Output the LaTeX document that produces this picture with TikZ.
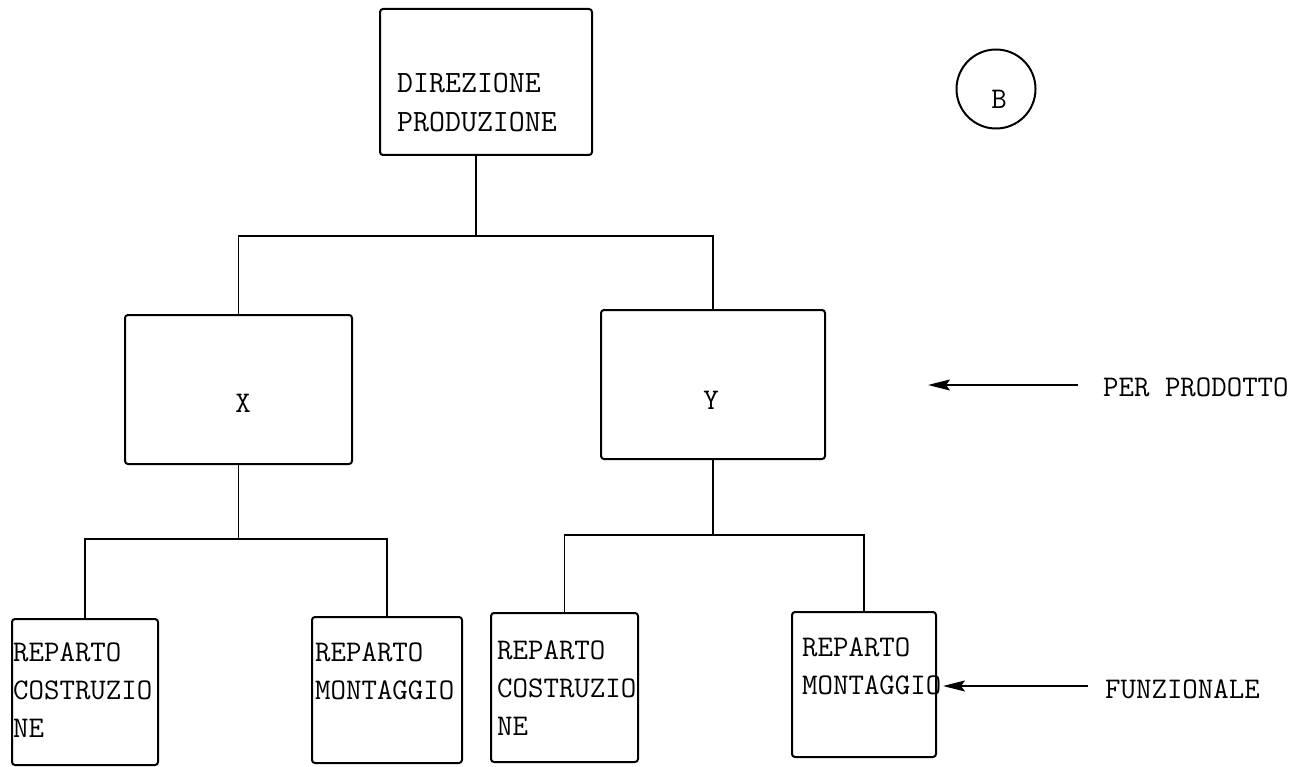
\documentclass[tikz,border=0pt]{standalone}
\usepackage{fontspec}
\usetikzlibrary{arrows.meta}
\begin{document}
\begin{tikzpicture}[x=1pt,y=-1pt,
  box/.style={draw, line width=2pt, rounded corners=3pt, inner sep=0pt},
  link/.style={line width=1.6pt},
  txt/.style={font=\fontsize{30}{38}\selectfont\ttfamily, inner sep=0pt},
  multi/.style={txt, text width=#1, align=left, anchor=base west},
  pointer/.style={line width=1.8pt, -{Stealth[length=22pt,width=11pt,inset=4pt]}},
]
\fill[white] (0,0) rectangle (1308,767);
\useasboundingbox (0,0) rectangle (1308,767);

% boxes
\node[box, minimum width=212pt, minimum height=146pt] (top) at (486,82) {};
\node[box, minimum width=227pt, minimum height=149pt] (X) at (238.5,389.5) {};
\node[box, minimum width=224pt, minimum height=149pt] (Y) at (713,384.5) {};
\node[box, minimum width=146pt, minimum height=146pt] (B1) at (85,692) {};
\node[box, minimum width=150pt, minimum height=146pt] (B2) at (387,690) {};
\node[box, minimum width=147pt, minimum height=149pt] (B3) at (564.5,687.5) {};
\node[box, minimum width=144pt, minimum height=145pt] (B4) at (864,684.5) {};
\node[draw, circle, line width=2pt, minimum size=79pt, inner sep=0pt] (mark) at (996,89) {};

% labels
\node[multi=200pt, font=\fontsize{31}{39}\selectfont\ttfamily] (topt) at (397,93) {DIREZIONE\\PRODUZIONE};
\node[txt, anchor=base] (Xt) at (243,412) {X};
\node[txt, anchor=base] (Yt) at (711,409) {Y};
\node[txt, anchor=base] (markt) at (999,109) {B};
\node[multi=160pt] (B1t) at (13,661) {REPARTO\\COSTRUZIO\\NE};
\node[multi=160pt] (B2t) at (315,661) {REPARTO\\MONTAGGIO};
\node[multi=160pt] (B3t) at (497,659) {REPARTO\\COSTRUZIO\\NE};
\node[multi=160pt] (B4t) at (802,656) {REPARTO\\MONTAGGIO};
\node[txt, anchor=base west] (pp) at (1103,396) {PER PRODOTTO};
\node[txt, anchor=base west] (fz) at (1105,698) {FUNZIONALE};

% tree connectors
\coordinate (j0) at (476,236);
\draw[link] (top.south -| j0) -- (j0);
\draw[link] (X.north) |- (j0) -| (Y.north);

\coordinate (j1) at (237,539);
\draw[link] (X.south) -- (X.south |- j1);
\draw[link] (B1.north) |- (j1) -| (B2.north);

\coordinate (j2) at (713,535);
\draw[link] (Y.south) -- (Y.south |- j2);
\draw[link] (B3.north) |- (j2) -| (B4.north);

% side pointers
\coordinate (tip1) at (928,385);
\draw[pointer, shorten <=25pt] (pp.west |- tip1) -- (tip1);
\coordinate (tip2) at (943,686);
\draw[pointer, shorten <=17pt] (fz.west |- tip2) -- (tip2);
\end{tikzpicture}
\end{document}
